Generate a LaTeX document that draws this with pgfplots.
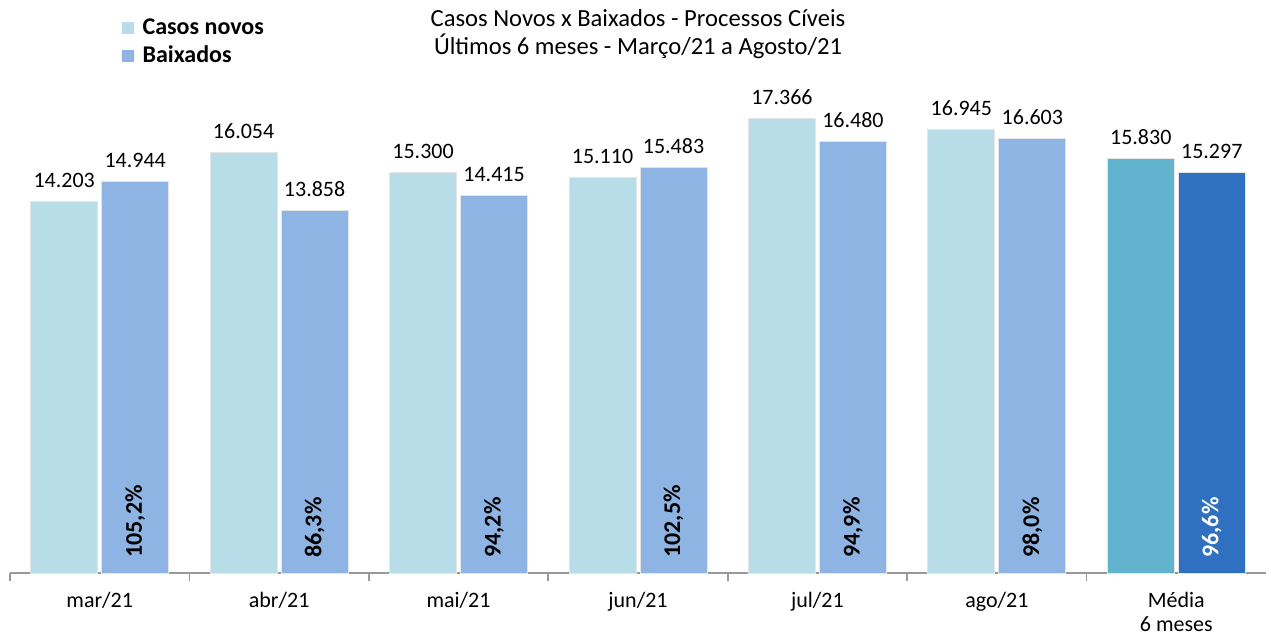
\documentclass[border=0pt]{standalone}
\usepackage{pgfplots}
\pgfplotsset{compat=1.18}
\usepackage{fontspec}
\setmainfont{Carlito}
\definecolor{lightc}{HTML}{B7DEE8}
\definecolor{darkc}{HTML}{8DB4E2}
\definecolor{medlight}{HTML}{62B4CE}
\definecolor{meddark}{HTML}{2F70C0}
\begin{document}
\begin{tikzpicture}
\useasboundingbox (-5pt,-31pt) rectangle (630.5pt,286.5pt);
\begin{axis}[
  at={(0,0)}, anchor=south west, scale only axis,
  width=628pt, height=261.9pt,
  xmin=-0.5, xmax=6.5, ymin=0, ymax=20000,
  axis x line*=bottom, axis y line=none, ytick=\empty,
  xtick={0,...,6},
  xticklabels={mar/21,abr/21,mai/21,jun/21,jul/21,ago/21,{Média\\6 meses}},
  major tick length=0pt,
  minor xtick={-0.5,0.5,...,5.5}, minor tick length=4pt, xtick align=outside,
  x axis line style={gray!80, line width=0.8pt},
  minor tick style={gray!80, line width=0.8pt},
  xticklabel style={font=\fontsize{11}{12}\selectfont, align=center, yshift=-6pt},
  clip=false,
  title={Casos Novos x Baixados - Processos Cíveis\\Últimos 6 meses - Março/21 a Agosto/21},
  title style={at={(0.5,1.006)}, anchor=center, align=center, font=\fontsize{12.3}{14}\selectfont},
  legend style={at={(0.089,1.066)}, anchor=north west, draw=none, fill=none,
    font=\bfseries\fontsize{12}{13}\selectfont, row sep=0pt, inner sep=0pt,
    cells={anchor=west}},
  legend image code/.code={\fill[#1,draw=none] (0pt,-3pt) rectangle (6pt,3pt); \path (8pt,0pt);},
  vallab/.style={point meta=explicit symbolic, nodes near coords,
    every node near coord/.append style={font=\fontsize{11}{13}\selectfont, anchor=base, inner sep=0pt, yshift=7pt, xshift=#1, text=black}},
  pctlab/.style={only marks, mark=none, point meta=explicit symbolic, nodes near coords,
    every node near coord/.append style={font=\bfseries\fontsize{12}{14}\selectfont, rotate=90, anchor=west, inner sep=0pt}},
]
\addplot[ybar, bar width=33.5pt, bar shift=-17.75pt, fill=lightc, draw=gray!20, vallab=-17.75pt]
  coordinates {(0,14203)[14.203] (1,16054)[16.054] (2,15300)[15.300] (3,15110)[15.110] (4,17366)[17.366] (5,16945)[16.945]};
\addlegendentry{Casos novos}
\addplot[ybar, bar width=33.5pt, bar shift=17.75pt, fill=darkc, draw=gray!20, vallab=17.75pt]
  coordinates {(0,14944)[14.944] (1,13858)[13.858] (2,14415)[14.415] (3,15483)[15.483] (4,16480)[16.480] (5,16603)[16.603]};
\addlegendentry{Baixados}
\addplot[ybar, bar width=33.5pt, bar shift=-17.75pt, fill=medlight, draw=gray!20, vallab=-17.75pt, forget plot]
  coordinates {(6,15830)[15.830]};
\addplot[ybar, bar width=33.5pt, bar shift=17.75pt, fill=meddark, draw=gray!20, vallab=17.75pt, forget plot]
  coordinates {(6,15297)[15.297]};
\addplot[pctlab, forget plot, every node near coord/.append style={text=black}]
  coordinates {(0.19785,570)[105,2\%] (1.19785,570)[86,3\%] (2.19785,570)[94,2\%] (3.19785,570)[102,5\%] (4.19785,570)[94,9\%] (5.19785,570)[98,0\%]};
\addplot[pctlab, forget plot, every node near coord/.append style={text=white}]
  coordinates {(6.19785,570)[96,6\%]};
\end{axis}
\end{tikzpicture}
\end{document}
